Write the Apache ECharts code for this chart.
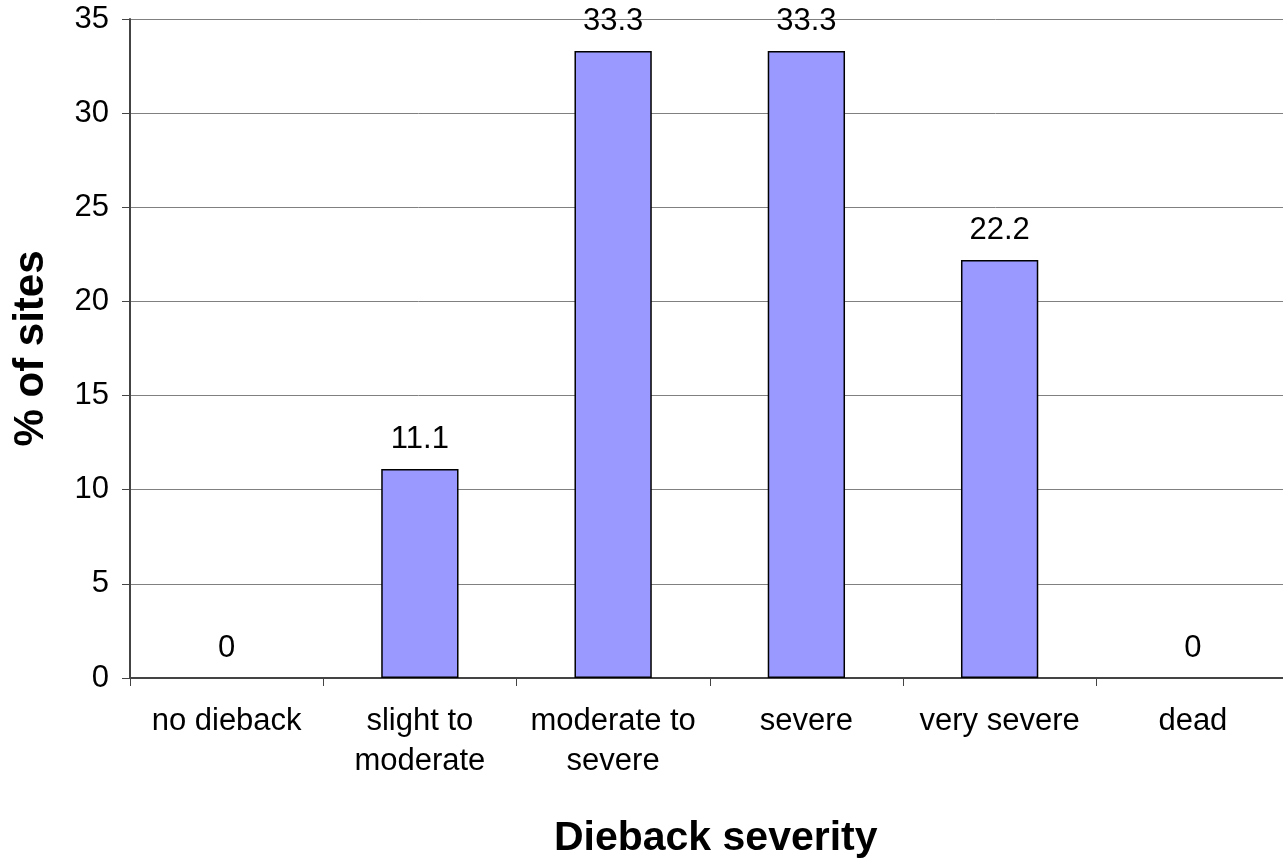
<!DOCTYPE html>
<html>
<head>
<meta charset="utf-8">
<style>
html,body{margin:0;padding:0;background:#fff;}
#chart{width:1283px;height:862px;}
</style>
<script src="https://cdn.jsdelivr.net/npm/echarts@6/dist/echarts.min.js"></script>
</head>
<body>
<div id="chart"></div>
<script>
var categories = ['no dieback', 'slight to\nmoderate', 'moderate to\nsevere', 'severe', 'very severe', 'dead'];
var values = [0, 11.1, 33.3, 33.3, 22.2, 0];
var yTicks = [0, 5, 10, 15, 20, 25, 30, 35];
var xTitle = 'Dieback severity';
var yTitle = '% of sites';

var FONT = '"Liberation Sans", Arial, sans-serif';
var barData = values.map(function (v) {
  return v === 0 ? {value: v, itemStyle: {borderWidth: 0, color: 'rgba(0,0,0,0)'}} : v;
});
var chart = echarts.init(document.getElementById('chart'), null, {renderer: 'canvas'});
chart.setOption({
  animation: false,
  backgroundColor: '#ffffff',
  grid: {left: 130, top: 19, right: -6.5, bottom: 184, containLabel: false, outerBoundsMode: 'none'},
  xAxis: {
    type: 'category',
    data: categories,
    name: xTitle,
    nameLocation: 'middle',
    nameGap: 140,
    nameTextStyle: {fontFamily: FONT, fontSize: 41, fontWeight: 'bold', color: '#000', padding: [0, 0, 0, 12]},
    axisLine: {lineStyle: {color: '#444', width: 2}},
    axisTick: {show: true, length: 8, lineStyle: {color: '#444', width: 1}},
    axisLabel: {fontFamily: FONT, fontSize: 31, color: '#000', margin: 23, lineHeight: 40, interval: 0}
  },
  yAxis: {
    type: 'value',
    min: yTicks[0],
    max: yTicks[yTicks.length - 1],
    interval: yTicks[1] - yTicks[0],
    name: yTitle,
    nameLocation: 'middle',
    nameGap: 78,
    nameRotate: 90,
    nameTextStyle: {fontFamily: FONT, fontSize: 42, fontWeight: 'bold', color: '#000'},
    axisLine: {show: true, lineStyle: {color: '#444', width: 2}},
    axisTick: {show: true, length: 8, lineStyle: {color: '#444', width: 1}},
    axisLabel: {fontFamily: FONT, fontSize: 31, color: '#000', margin: 21},
    splitLine: {show: true, lineStyle: {color: '#808080', width: 1}}
  },
  series: [{
    type: 'bar',
    data: barData,
    barWidth: '40%',
    itemStyle: {color: '#9999ff', borderColor: '#000', borderWidth: 1.5},
    label: {show: true, position: 'top', distance: 14, fontFamily: FONT, fontSize: 31, color: '#000'}
  }]
});
</script>
</body>
</html>
